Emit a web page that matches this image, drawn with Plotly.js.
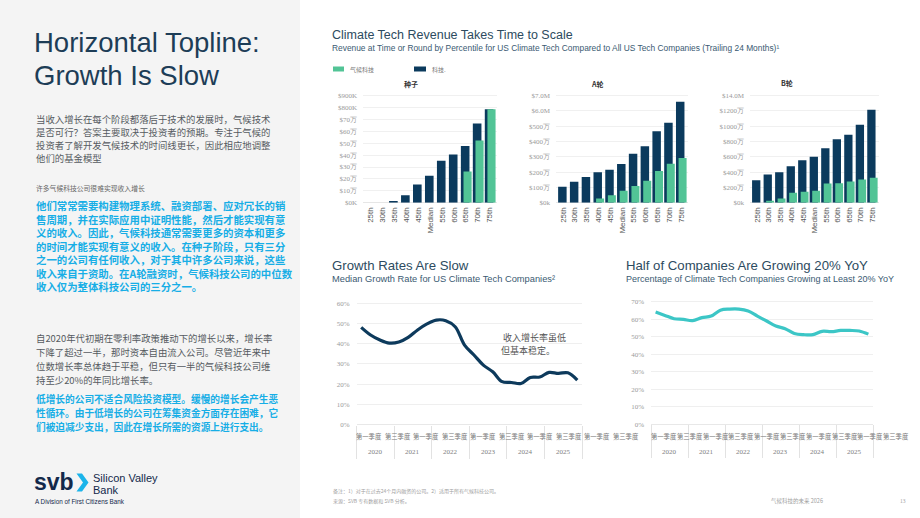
<!DOCTYPE html>
<html><head><meta charset="utf-8">
<script src="https://cdn.plot.ly/plotly-3.0.1.min.js"></script>
<style>html,body{margin:0;padding:0;background:#fff;}#chart{width:920px;height:518px;}</style>
</head><body><div id="chart"></div>
<script>
// ---------- DATA ----------
const pct = ["25th","30th","35th","40th","45th","Median","55th","60th","65th","70th","75th"];
// Seed ($K)
const seedTech    = [0,0,14,62,154,227,353,406,476,667,785];
const seedClimate = [0,0,0,0,0,0,0,0,263,524,785];
// Series A ($M)
const aTech    = [1.05,1.37,1.68,2.0,2.16,2.53,3.2,3.69,4.67,5.23,6.6];
const aClimate = [0,0,0,0.28,0.48,0.78,1.09,1.44,2.07,2.55,2.92];
// Series B ($M)
const bTech    = [2.94,3.68,4.0,4.76,5.54,6.0,7.14,8.3,8.9,10.2,12.16];
const bClimate = [0,0.26,0.56,1.3,1.43,1.56,2.5,2.55,2.77,3.03,3.25];

const seedTickVals = [0,100,200,300,400,500,600,700,800,900];
const seedTickText = ["$0K","$10万","$20万","$30万","$40万","$50万","$60万","$70万","$800K","$900K"];
const aTickVals = [0,1,2,3,4,5,6,7];
const aTickText = ["$0k","$100万","$200万","$300万","$400万","$500万","$6.0M","$7.0M"];
const bTickVals = [0,2,4,6,8,10,12,14];
const bTickText = ["$0k","$200万","$400万","$600万","$800万","$1000万","$1200万","$14.0M"];

const years = ["2020","2021","2022","2023","2024","2025"];
const quarters = ["2020 Q1","2020 Q2","2020 Q3","2020 Q4","2021 Q1","2021 Q2","2021 Q3","2021 Q4",
  "2022 Q1","2022 Q2","2022 Q3","2022 Q4","2023 Q1","2023 Q2","2023 Q3","2023 Q4",
  "2024 Q1","2024 Q2","2024 Q3","2024 Q4","2025 Q1","2025 Q2","2025 Q3","2025 Q4"];
const medianGrowth = [48.1,44.3,41.8,40.3,40.8,43.1,46.8,49.8,51.7,51.4,48.4,39.3,
  34.4,29.4,26.1,21.2,20.8,20.3,23.3,23.5,25.8,25.3,25.6,22.0];
const share20 = [64.1,62.2,60.3,59.9,59.2,60.9,61.8,65.2,65.8,65.8,64.7,61.8,
  59.0,56.1,54.6,51.9,51.2,51.2,53.1,52.9,53.6,53.6,53.3,51.5];
const qLabelsLeft  = ["第一季度","第三季度","第一季度","第三季度","第一季度","第三季度","第一季度","第三季度","第一季度","第三季度"];
const qLabelsRight = ["第一季度","第三季度","第一季度","第三季度","第一季度","第三季度","第一季度","第三季度","第一季度","第三季度"];

// ---------- STYLE ----------
const W=920,H=518;
const X=px=>px/W, Y=py=>1-py/H;
const DARK='#0b3a5d', GREEN='#52c496', TEAL='#3cc6c6', LINE='#0d3a5c';
const SANS='Liberation Sans, Arial, sans-serif';
const SERIF='Liberation Serif, Times New Roman, serif';
const CJK='Noto Sans CJK SC, sans-serif';
const TITLE='#2d4b60', SUB='#3a5a72', GRAY='#565b61', BLUE='#17aee6', NAVY='#13294b';

const qIdx = quarters.map((q,i)=>i);
const yearEdges = years.map((y,i)=>i*4-0.5).concat([years.length*4-0.5]);
const yearMid = years.map((y,i)=>i*4+1.5);

function barX(dom, anchor){return {domain:[X(dom[0]),X(dom[1])],anchor,type:'category',categoryorder:'array',categoryarray:pct,
  range:[-0.6,10.6],tickangle:-90,tickfont:{size:8,color:'#555',family:SANS},showgrid:false,zeroline:false,showline:false,ticks:'',ticklabelstandoff:2,fixedrange:true};}
function lineX(dom, anchor){return {domain:[X(dom[0]),X(dom[1])],anchor,range:[-0.5,23.5],tickmode:'array',tickvals:yearEdges,
  ticktext:yearEdges.map(()=>''),ticks:'outside',ticklen:33,tickcolor:'#e2e2e2',tickwidth:1,showgrid:false,zeroline:false,showline:false,fixedrange:true};}
function lineY(anchor, y0, top, rng){return {domain:[Y(y0),Y(top)],anchor,range:rng,dtick:10,ticksuffix:'%',
  tickfont:{size:7,color:'#9a9a9a',family:SERIF},showgrid:true,gridcolor:'#efefef',zeroline:true,zerolinecolor:'#e8e8e8',
  showline:false,ticks:'',ticklabelstandoff:6,fixedrange:true};}
// bar domains: 0 at y=202.7, top label at y=95.7
function bY(anchor, maxVal, vals, text){
  const ppu=107/maxVal, top=maxVal*1.01;
  return {domain:[Y(202.7),Y(202.7-ppu*top)],anchor,range:[0,top],tickmode:'array',tickvals:vals,ticktext:text,
    tickfont:{size:7,color:'#9a9a9a',family:SERIF},showgrid:true,gridcolor:'#f0f0f0',zeroline:true,zerolinecolor:'#e6e6e6',
    showline:false,ticks:'',ticklabelstandoff:5,fixedrange:true};
}

const traces=[];
function addBars(xa,ya,tech,clim){
  traces.push({type:'bar',x:pct,y:tech,xaxis:xa,yaxis:ya,marker:{color:DARK,line:{width:0}},offset:-0.42,width:0.72,hoverinfo:'skip'});
  traces.push({type:'bar',x:pct,y:clim,xaxis:xa,yaxis:ya,marker:{color:GREEN,line:{width:0}},offset:-0.2,width:0.68,hoverinfo:'skip'});
}
addBars('x','y',seedTech,seedClimate);
addBars('x2','y2',aTech,aClimate);
addBars('x3','y3',bTech,bClimate);
traces.push({type:'scatter',mode:'lines',x:qIdx,y:medianGrowth,xaxis:'x4',yaxis:'y4',line:{color:LINE,width:3.2,shape:'spline',smoothing:1},hoverinfo:'skip'});
traces.push({type:'scatter',mode:'lines',x:qIdx,y:share20,xaxis:'x5',yaxis:'y5',line:{color:TEAL,width:3.2,shape:'spline',smoothing:1},hoverinfo:'skip'});

// ---------- TEXT ----------
const ann=[];
function T(text,px,py,size,color,o={}){
  ann.push(Object.assign({text,x:X(px),y:Y(py),xref:'paper',yref:'paper',xanchor:o.xa||'left',yanchor:'middle',showarrow:false,
    align:'left',borderpad:0,font:{size,color,family:o.f||SANS,weight:o.w||'normal'}},o.extra||{}));
}
// left panel
T('Horizontal Topline:',33,43,27.5,'#1d3d57',{w:300});
T('Growth Is Slow',33,75,27.5,'#1d3d57',{w:300});
const p1=["当收入增长在每个阶段都落后于技术的发展时，气候技术","是否可行？答案主要取决于投资者的预期。专注于气候的","投资者了解开发气候技术的时间线更长，因此相应地调整","他们的基金模型"];
p1.forEach((s,i)=>T(s,35,119+i*13,9.4,GRAY,{f:CJK}));
T('许多气候科技公司很难实现收入增长',35,188,6.8,'#666',{f:CJK});
const b1=["他们常常需要构建物理系统、融资部署、应对冗长的销","售周期，并在实际应用中证明性能，然后才能实现有意","义的收入。因此，气候科技通常需要更多的资本和更多","的时间才能实现有意义的收入。在种子阶段，只有三分","之一的公司有任何收入，对于其中许多公司来说，这些","收入来自于资助。在A轮融资时，气候科技公司的中位数","收入仅为整体科技公司的三分之一。"];
T(b1.join('<br>'),35,246.2,10.4,BLUE,{f:CJK,w:'bold'});
const p3=["自2020年代初期在零利率政策推动下的增长以来，增长率","下降了超过一半，那时资本自由流入公司。尽管近年来中","位数增长率总体趋于平稳，但只有一半的气候科技公司维","持至少20%的年同比增长率。"];
p3.forEach((s,i)=>T(s,35,338+i*14,9.4,GRAY,{f:CJK}));
const b2=["低增长的公司不适合风险投资模型。缓慢的增长会产生恶","性循环。由于低增长的公司在筹集资金方面存在困难，它","们被迫减少支出，因此在增长所需的资源上进行支出。"];
b2.forEach((s,i)=>T(s,35,399+i*14,9.7,BLUE,{f:CJK,w:'bold'}));
// logo
T('svb',33,482,23,NAVY,{w:'bold'});
T('Silicon Valley',92,478,11,NAVY);
T('Bank',92,490,11,NAVY);
T('A Division of First Citizens Bank',34,501,6.3,NAVY);
// right titles
T('Climate Tech Revenue Takes Time to Scale',331,35,12.5,TITLE);
T('Revenue at Time or Round by Percentile for US Climate Tech Compared to All US Tech Companies (Trailing 24 Months)¹',331,48,8.4,SUB);
T('气候科技',349,69,6,'#777',{f:CJK});
T('科技.',431,69,6,'#777',{f:CJK});
T('种子',411,84,7,'#333',{f:CJK,w:'bold',xa:'center'});
T('A轮',597,84,7,'#333',{f:CJK,w:'bold',xa:'center'});
T('B轮',787,83,7,'#333',{f:CJK,w:'bold',xa:'center'});
T('Growth Rates Are Slow',331,265,13.2,TITLE);
T('Median Growth Rate for US Climate Tech Companies²',331,279,9.3,SUB);
T('Half of Companies Are Growing 20% YoY',625,265,13.2,TITLE);
T('Percentage of Climate Tech Companies Growing at Least 20% YoY',625,279,9,SUB);
T('收入增长率虽低',502,337,9,'#555',{f:CJK});
T('但基本稳定。',500,350,9,'#555',{f:CJK});
// quarter & year labels
qLabelsLeft.forEach((s,i)=>T(s,369+i*28.5,436,6.3,'#777',{f:CJK,xa:'center'}));
qLabelsRight.forEach((s,i)=>T(s,664+i*25.8,436,6.3,'#777',{f:CJK,xa:'center'}));
years.forEach((s,i)=>{
  ann.push({text:s,x:yearMid[i],xref:'x4',y:Y(452),yref:'paper',showarrow:false,xanchor:'center',yanchor:'middle',font:{size:7,color:'#808080',family:SERIF}});
  ann.push({text:s,x:yearMid[i],xref:'x5',y:Y(452),yref:'paper',showarrow:false,xanchor:'center',yanchor:'middle',font:{size:7,color:'#808080',family:SERIF}});
});
// footer
T('备注：1）对于在过去24个月内融资的公司。2）适用于所有气候科技公司。',332,491,5,'#a0a0a0',{f:CJK});
T('来源：SVB 专有数据和 SVB 分析。',332,501,5,'#a0a0a0',{f:CJK});
T('气候科技的未来 2026',770,501,5.5,'#a0a0a0',{f:CJK});
T('13',899,501,5.5,'#a0a0a0',{f:SERIF});

// ---------- SHAPES ----------
function P(pts){return 'M'+pts.map(p=>X(p[0])+','+Y(p[1])).join('L')+'Z';}
const shapes=[
  {type:'rect',xref:'paper',yref:'paper',x0:0,x1:X(300),y0:0,y1:1,fillcolor:'#f4f4f4',line:{width:0},layer:'below'},
  {type:'rect',xref:'paper',yref:'paper',x0:X(333),x1:X(344),y0:Y(71.5),y1:Y(66.5),fillcolor:GREEN,line:{width:0}},
  {type:'rect',xref:'paper',yref:'paper',x0:X(414),x1:X(426),y0:Y(71.5),y1:Y(66.5),fillcolor:DARK,line:{width:0}},
  {type:'path',xref:'paper',yref:'paper',path:P([[76.5,473.5],[82,473.5],[88.5,482.5],[82,491.5],[76.5,491.5],[83,482.5]]),fillcolor:'#1cb4ea',line:{width:0}}
];

const layout={width:W,height:H,margin:{l:0,r:0,t:0,b:0},paper_bgcolor:'#ffffff',plot_bgcolor:'rgba(0,0,0,0)',
  showlegend:false,barmode:'overlay',font:{family:SANS},
  xaxis:barX([363,497],'y'), yaxis:bY('x',900,seedTickVals,seedTickText),
  xaxis2:barX([556,688],'y2'), yaxis2:bY('x2',7,aTickVals,aTickText),
  xaxis3:barX([750,879],'y3'), yaxis3:bY('x3',14,bTickVals,bTickText),
  xaxis4:lineX([356.5,582],'y4'), yaxis4:lineY('x4',424.5,424.5-61*2.02,[0,61]),
  xaxis5:lineX([651,873],'y5'), yaxis5:lineY('x5',424.3,424.3-71*1.751,[0,71]),
  annotations:ann, shapes};
Plotly.newPlot('chart',traces,layout,{staticPlot:true,displayModeBar:false});
</script></body></html>
